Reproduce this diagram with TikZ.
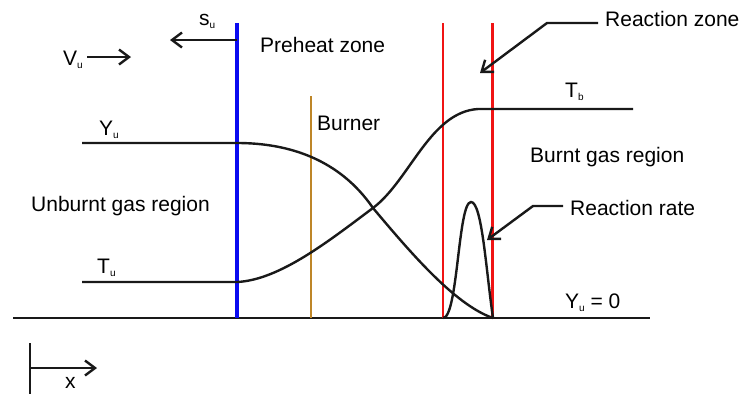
\documentclass[tikz,border=0pt]{standalone}
\usepackage{fontspec}
\setmainfont{Liberation Sans}
\usetikzlibrary{arrows.meta,calc}
\definecolor{burnerc}{RGB}{190,134,40}
\definecolor{zblue}{RGB}{10,10,240}
\definecolor{zred}{RGB}{240,20,20}
\newcommand\subu{\raisebox{-3pt}{\fontsize{10}{10}\selectfont u}}
\newcommand\subbb{\raisebox{-3pt}{\fontsize{10}{10}\selectfont b}}
\begin{document}
\begin{tikzpicture}[x=1pt,y=-1pt,
  lbl/.style={anchor=base west, inner sep=0pt, font=\fontsize{21}{21}\selectfont},
  crv/.style={line width=2.4pt, black!90},
  arr/.style={line width=2.4pt, black!90, -{Straight Barb[length=10pt,width=15pt]}},
  zline/.style={line width=3.2pt}]
\useasboundingbox (0,0) rectangle (744,394);
% base line
\coordinate (bl0) at (13,318);
\coordinate (bl1) at (650,318);
\draw[crv] (bl0) -- (bl1);
% vertical lines
\coordinate (blueT) at (237,23);
\coordinate (blueB) at (237,318);
\coordinate (burT) at (311,96);
\coordinate (burB) at (311,318);
\coordinate (r1T) at (443,23);
\coordinate (r1B) at (443,318);
\coordinate (r2T) at (492,23);
\coordinate (r2B) at (492,318);
\draw[zline, zblue] (blueT) -- (blueB);
\draw[line width=2.8pt, burnerc] (burT) -- (burB);
\draw[line width=2.6pt, zred] (r1T) -- (r1B);
\draw[line width=3pt, zred] (r2T) -- (r2B);
% Y_u curve
\coordinate (yu0) at (82,143);
\coordinate (yu1) at (237,143);
\coordinate (cross) at (373,208);
\coordinate (yuE) at (493,318);
\draw[crv] (yu0) -- (yu1) .. controls (290,143) and (340,160) .. (cross)
  .. controls (410,252) and (455,305) .. (yuE);
% T curve
\coordinate (tu0) at (82,282);
\coordinate (tu1) at (237,282);
\coordinate (tb0) at (478,109);
\coordinate (tb1) at (633,109);
\draw[crv] (tu0) -- (tu1) .. controls (280,280) and (330,240) .. (cross)
  .. controls (410,180) and (430,112) .. (tb0) -- (tb1);
% reaction rate peak
\coordinate (rr0) at (443,318);
\coordinate (rrP) at (471,202);
\coordinate (rr1) at (493,318);
\draw[crv] (rr0) .. controls (458,318) and (458,202) .. (rrP)
  .. controls (482,202) and (486,270) .. (rr1);
% labels
\node[lbl] (lyu) at (99,135) {Y\subu};
\node[lbl] (ltu) at (97,273) {T\subu};
\node[lbl] (lunb) at (31,211) {Unburnt gas region};
\node[lbl] (lpre) at (260,52) {Preheat zone};
\node[lbl] (lbur) at (317,130) {Burner};
\node[lbl] (ltb) at (565,97) {T\subbb};
\node[lbl] (lbgr) at (530,162) {Burnt gas region};
\node[lbl] (rz) at (605,26) {Reaction zone};
\node[lbl] (rr) at (570,215) {Reaction rate};
\node[lbl] (ly0) at (565,308) {Y\subu\ = 0};
\node[lbl] (lsu) at (199,25) {s\subu};
\node[lbl] (lvu) at (63,65) {V\subu};
\node[lbl] (lx) at (65,388) {x};
% leaders
\draw[arr] ($(rz.base west)+(-7,-3)$) -- ++(-51,0) -- ++(-67,50);
\draw[arr] ($(rr.base west)+(-7,-9)$) -- ++(-30,0) -- ++(-46,34);
% flow arrows
\draw[arr] ($(lvu.base west)+(24,-8)$) -- ++(44,0);
\coordinate (su0) at (237,40);
\draw[arr] (su0) -- ++(-67,0);
% x axis
\coordinate (xa0) at (30,343);
\coordinate (xa1) at (30,394);
\coordinate (xo) at (30,368);
\draw[crv] (xa0) -- (xa1);
\draw[arr] (xo) -- ++(67,0);
\end{tikzpicture}
\end{document}
